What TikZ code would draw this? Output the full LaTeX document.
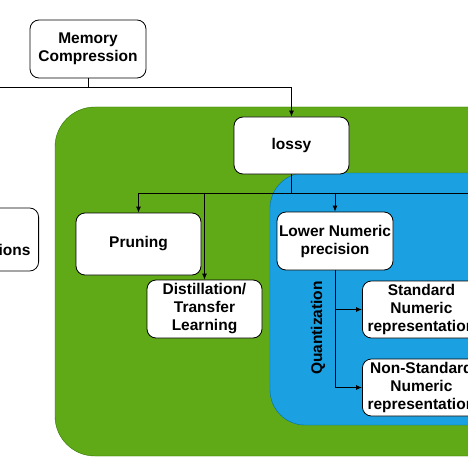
\documentclass[tikz,border=0pt]{standalone}
\usepackage{fontspec}
\setmainfont{Liberation Sans}
\usetikzlibrary{arrows.meta}
\definecolor{leafgreen}{HTML}{60A917}
\definecolor{leafline}{HTML}{2D7600}
\definecolor{skyblue}{HTML}{1BA1E2}
\definecolor{skyline}{HTML}{006EAF}
\tikzset{
	lbl/.style={font=\fontsize{15.5}{18}\selectfont\bfseries},
	box/.style={lbl, draw, fill=white, rounded corners=9pt, line width=.8pt, align=center, inner sep=0pt},
	link/.style={line width=.8pt},
	arr/.style={link, -{Latex[length=6pt,width=5pt]}}
}
\begin{document}
\begin{tikzpicture}[x=1pt,y=-1pt]
			\useasboundingbox (0,0) rectangle (468,468);
			\clip (0,0) rectangle (468,468);
			\fill[white] (0,0) rectangle (468,468);
			% regions
			\draw[fill=leafgreen, draw=leafline, rounded corners=40pt] (55,107) rectangle (540,456);
			\draw[fill=skyblue, draw=skyline, rounded corners=35pt] (270,173) rectangle (540,425);
			% boxes
			\node[box, minimum width=116pt, minimum height=58pt] (mem) at (88,49) {Memory\\Compression};
			\node[box, minimum width=118pt, minimum height=63pt, anchor=east] (approx) at (39,239.5) {};
			\node[lbl, anchor=east] (approxtext) at (34,250) {tions};
			\node[box, minimum width=115pt, minimum height=57pt] (lossy) at (291.5,145.5) {lossy};
			\node[box, minimum width=125pt, minimum height=62pt] (prun) at (138.5,244) {Pruning};
			\node[box, minimum width=115pt, minimum height=58pt] (dist) at (204.5,309) {Distillation/\\Transfer\\Learning};
			\node[box, minimum width=116pt, minimum height=58pt] (lower) at (335,241) {Lower Numeric\\precision};
			\node[box, minimum width=118pt, minimum height=57pt, anchor=west] (std) at (362,309.5) {Standard\\Numeric\\representation};
			\node[box, minimum width=118pt, minimum height=57pt, anchor=west] (nonstd) at (362,387.5) {Non-Standard\\Numeric\\representation};
			\node[lbl, rotate=90] (quant) at (318,328) {Quantization};
			% connectors
			\path
			(mem.south |- 0,87) coordinate (top)
			(-10,87) coordinate (topleft)
			(lossy.south |- 0,193) coordinate (mid)
			(prun.north |- 0,193) coordinate (midleft)
			(480,193) coordinate (midright)
			(lower.south |- 0,387.5) coordinate (low)
			;
			\draw[link] (mem.south) -- (top) (topleft) -- (top);
			\draw[arr] (top) -| (lossy.north);
			\draw[link] (lossy.south) -- (mid) (midleft) -- (midright);
			\draw[arr] (midleft) -- (prun.north);
			\draw[arr] (dist.north |- mid) -- (dist.north);
			\draw[arr] (lower.north |- mid) -- (lower.north);
			\draw[link] (lower.south) -- (low);
			\draw[arr] (std.west -| low) -- (std.west);
			\draw[arr] (low) -- (nonstd.west);
		\end{tikzpicture}
\end{document}
